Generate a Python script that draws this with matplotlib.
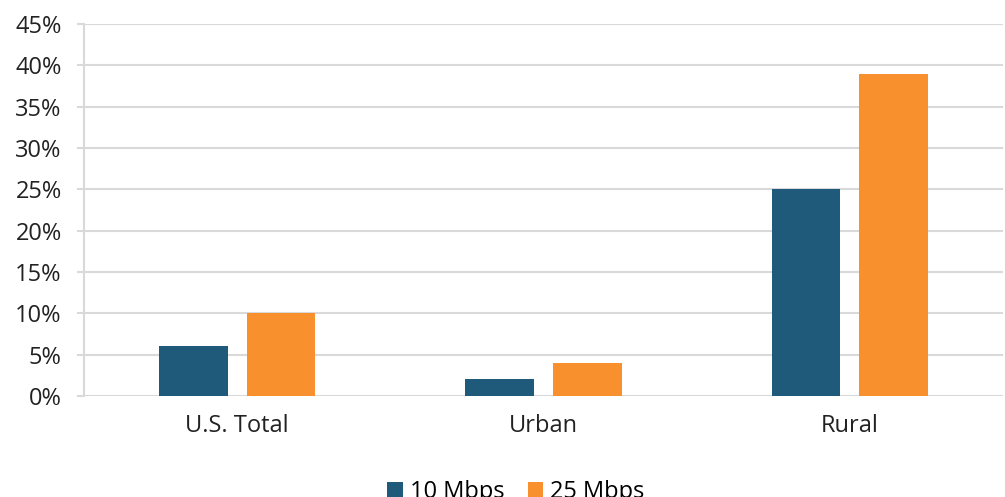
import numpy as np
import matplotlib
matplotlib.use("Agg")
import matplotlib.pyplot as plt
from matplotlib.ticker import PercentFormatter

categories = ["U.S. Total", "Urban", "Rural"]
speed_10 = [6, 2, 25]
speed_25 = [10, 4, 39]
series_names = ["10 Mbps", "25 Mbps"]

blue = "#1F5A7A"
orange = "#F7902D"
grid = "#D9D9D9"

plt.rcParams['font.family'] = ['Open Sans', 'DejaVu Sans']

fig = plt.figure(figsize=(10.05, 4.97), dpi=100)
ax = fig.add_axes([0.0836, 0.2032, 0.9144, 0.7485])

x = np.arange(len(categories))
w = 0.225
ax.bar(x - 0.143, speed_10, w, color=blue, label=series_names[0], zorder=3)
ax.bar(x + 0.143, speed_25, w, color=orange, label=series_names[1], zorder=3)

ax.set_xlim(-0.5, 2.5)
ax.set_ylim(0, 45)
ax.set_yticks(np.arange(0, 46, 5))
ax.yaxis.set_major_formatter(PercentFormatter(decimals=0))
ax.set_xticks(x)
ax.set_xticklabels(categories)

ax.grid(axis='y', color=grid, linewidth=1.5, zorder=0)
for s in ['top', 'right', 'bottom']:
    ax.spines[s].set_visible(False)
ax.spines['left'].set_color(grid)
ax.spines['left'].set_linewidth(1.5)
ax.tick_params(axis='y', length=5, width=1.5, color=grid, labelsize=17, pad=11, labelcolor='#222222')
ax.tick_params(axis='x', length=0, labelsize=17, pad=13, labelcolor='#222222')

ax.legend(loc='lower center', bbox_to_anchor=(0.47, -0.315), ncol=2, frameon=False,
          fontsize=17, handlelength=0.65, handleheight=0.65, handletextpad=0.3,
          columnspacing=1.0, borderaxespad=0)

fig.savefig("out.png", dpi=100)
